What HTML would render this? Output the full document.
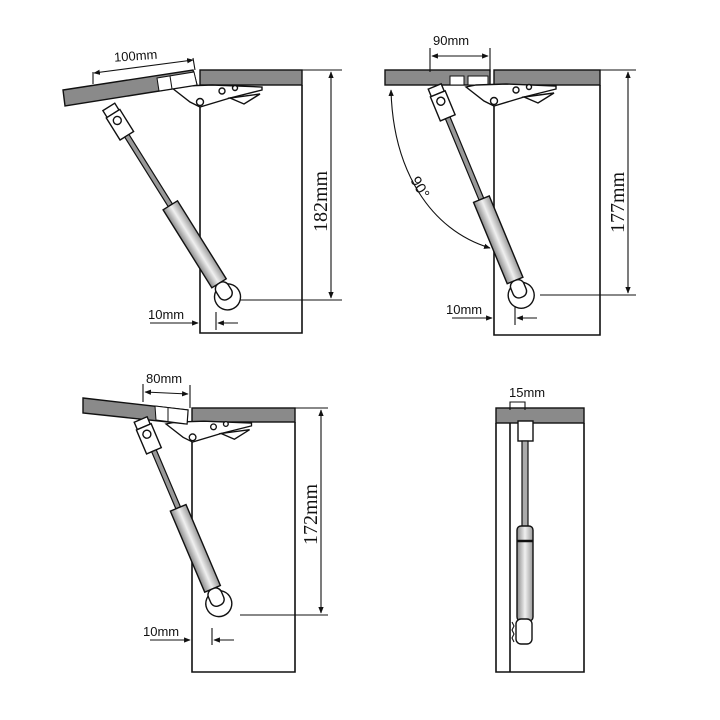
<!DOCTYPE html>
<html><head><meta charset="utf-8"><style>
html,body{margin:0;padding:0;background:#fff;}
svg{display:block;}
text{font-family:"Liberation Sans",sans-serif;fill:#111;}
.s{fill:none;stroke:#111;stroke-width:1.6;}
.t{fill:none;stroke:#111;stroke-width:1.1;}
.g{fill:#8a8a8a;stroke:#111;stroke-width:1.4;}
.w{fill:#fff;stroke:#111;stroke-width:1.4;}
</style></head><body>
<svg width="720" height="720" viewBox="0 0 720 720" xmlns="http://www.w3.org/2000/svg">
<defs>
<linearGradient id="cyl" x1="0" y1="0" x2="1" y2="0">
<stop offset="0" stop-color="#8a8a8a"/><stop offset="0.5" stop-color="#f0f0f0"/><stop offset="1" stop-color="#999"/>
</linearGradient>
<marker id="a" viewBox="0 0 10 10" refX="9" refY="5" markerWidth="6" markerHeight="6" orient="auto-start-reverse"><path d="M0,1 L10,5 L0,9 z" fill="#111"/></marker>
<g id="hinge">
<path class="w" d="M0,0 L18,14 L28,19 L58,10 L90,2 L90,-1 L40,-3 L10,-2 Z"/>
<path class="w" d="M58,10 L72,16 L88,6 Z"/>
<circle class="w" cx="28" cy="14" r="3.5"/>
<circle class="w" cx="50" cy="3" r="3"/>
<circle class="w" cx="63" cy="0" r="2.5"/>
</g>
</defs>

<!-- ========== Panel 1 ========== -->
<rect class="g" x="200" y="70" width="102" height="15"/>
<path class="s" d="M200,98 V333 H302 V85"/>
<use href="#hinge" transform="translate(172,88)"/>
<path class="g" d="M63,90 L193,70 L197,85 L65,106 Z"/>
<path d="M157,78 L194,72 L197,85 L159,91 Z" fill="#fff" stroke="#111" stroke-width="1"/>
<line x1="170" y1="76" x2="172" y2="89" stroke="#111" stroke-width="1"/>
<path class="t" d="M93,84 L93,72 M193,58 L195,70"/>
<line class="t" x1="94" y1="73" x2="193" y2="60" marker-start="url(#a)" marker-end="url(#a)"/>
<text x="114" y="60" font-size="13" transform="rotate(-4 140 56)">100mm</text>
<g transform="translate(112,112) rotate(-32)">
<rect class="w" x="-7" y="-6" width="14" height="8"/>
<rect class="w" x="-8" y="2" width="16" height="26"/>
<circle class="w" cx="0" cy="10" r="4"/>
<rect x="-2.5" y="28" width="5" height="82" fill="#999" stroke="#111" stroke-width="1.2"/>
<rect x="-8.5" y="110" width="17" height="92" fill="url(#cyl)" stroke="#111" stroke-width="1.4"/>
<circle class="w" cx="0" cy="218" r="13"/>
<rect class="w" x="-7" y="202" width="14" height="18" rx="6"/>
</g>
<path class="t" d="M302,70 H342 M240,300 H342"/>
<line class="t" x1="331" y1="72" x2="331" y2="298" marker-start="url(#a)" marker-end="url(#a)"/>
<text font-size="20" transform="translate(327,232) rotate(-90)" style="font-family:'Liberation Serif',serif">182mm</text>
<text x="148" y="319" font-size="13">10mm</text>
<line class="t" x1="150" y1="323" x2="198" y2="323" marker-end="url(#a)"/>
<line class="t" x1="216" y1="312" x2="216" y2="330"/>
<line class="t" x1="238" y1="323" x2="218" y2="323" marker-end="url(#a)"/>

<!-- ========== Panel 2 ========== -->
<rect class="g" x="385" y="70" width="105" height="15"/>
<rect class="g" x="494" y="70" width="106" height="15"/>
<rect x="450" y="76" width="14" height="9" fill="#fff" stroke="#111" stroke-width="1"/>
<rect x="468" y="76" width="20" height="9" fill="#fff" stroke="#111" stroke-width="1"/>
<path class="s" d="M494,100 V335 H600 V85"/>
<use href="#hinge" transform="translate(466,87)"/>
<path class="t" d="M430,48 V72 M490,48 V72"/>
<line class="t" x1="432" y1="56" x2="488" y2="56" marker-start="url(#a)" marker-end="url(#a)"/>
<text x="433" y="45" font-size="13">90mm</text>
<path class="t" d="M391,90 C393,170 430,230 490,248" marker-start="url(#a)" marker-end="url(#a)"/>
<text font-size="15" transform="translate(410,180) rotate(60)">90°</text>
<g transform="translate(437,92) rotate(-22.5)">
<rect class="w" x="-7" y="-6" width="14" height="8"/>
<rect class="w" x="-8" y="2" width="16" height="26"/>
<circle class="w" cx="0" cy="10" r="4"/>
<rect x="-2.5" y="28" width="5" height="88" fill="#999" stroke="#111" stroke-width="1.2"/>
<rect x="-8.5" y="116" width="17" height="88" fill="url(#cyl)" stroke="#111" stroke-width="1.4"/>
<circle class="w" cx="0" cy="220" r="13"/>
<rect class="w" x="-7" y="204" width="14" height="18" rx="6"/>
</g>
<path class="t" d="M600,70 H636 M540,295 H636"/>
<line class="t" x1="628" y1="72" x2="628" y2="293" marker-start="url(#a)" marker-end="url(#a)"/>
<text font-size="20" transform="translate(624,233) rotate(-90)" style="font-family:'Liberation Serif',serif">177mm</text>
<text x="446" y="314" font-size="13">10mm</text>
<line class="t" x1="452" y1="318" x2="492" y2="318" marker-end="url(#a)"/>
<line class="t" x1="515" y1="306" x2="515" y2="325"/>
<line class="t" x1="537" y1="318" x2="517" y2="318" marker-end="url(#a)"/>

<!-- ========== Panel 3 ========== -->
<rect class="g" x="192" y="408" width="103" height="14"/>
<path class="s" d="M192,440 V672 H295 V422"/>
<use href="#hinge" transform="translate(166,424) scale(0.95)"/>
<path class="g" d="M83,398 L188,410 L187,424 L83,413 Z"/>
<path d="M155,406 L188,410 L187,424 L156,420 Z" fill="#fff" stroke="#111" stroke-width="1"/>
<line x1="168" y1="408" x2="168" y2="421" stroke="#111" stroke-width="1"/>
<path class="t" d="M143,384 V402 M190,385 V408"/>
<line class="t" x1="145" y1="392" x2="188" y2="394" marker-start="url(#a)" marker-end="url(#a)"/>
<text x="146" y="383" font-size="13">80mm</text>
<g transform="translate(143,425) rotate(-23)">
<rect class="w" x="-7" y="-6" width="14" height="8"/>
<rect class="w" x="-8" y="2" width="16" height="26"/>
<circle class="w" cx="0" cy="10" r="4"/>
<rect x="-2.5" y="28" width="5" height="62" fill="#999" stroke="#111" stroke-width="1.2"/>
<rect x="-8.5" y="90" width="17" height="88" fill="url(#cyl)" stroke="#111" stroke-width="1.4"/>
<circle class="w" cx="0" cy="194" r="13"/>
<rect class="w" x="-7" y="178" width="14" height="18" rx="6"/>
</g>
<path class="t" d="M295,408 H328 M240,615 H328"/>
<line class="t" x1="321" y1="410" x2="321" y2="613" marker-start="url(#a)" marker-end="url(#a)"/>
<text font-size="20" transform="translate(317,545) rotate(-90)" style="font-family:'Liberation Serif',serif">172mm</text>
<text x="143" y="636" font-size="13">10mm</text>
<line class="t" x1="150" y1="640" x2="190" y2="640" marker-end="url(#a)"/>
<line class="t" x1="212" y1="628" x2="212" y2="645"/>
<line class="t" x1="234" y1="640" x2="214" y2="640" marker-end="url(#a)"/>

<!-- ========== Panel 4 ========== -->
<rect class="g" x="496" y="408" width="88" height="15"/>
<path class="s" d="M496,423 V672 H584 V423 M510,423 V672"/>
<path class="t" d="M510,410 V402 H525 V410"/>
<text x="509" y="397" font-size="13">15mm</text>
<rect class="w" x="518" y="421" width="15" height="20"/>
<rect x="522" y="441" width="6" height="86" fill="#aaa" stroke="#111" stroke-width="1.2"/>
<rect x="517" y="526" width="16" height="95" rx="4" fill="url(#cyl)" stroke="#111" stroke-width="1.4"/>
<line x1="517" y1="541" x2="533" y2="541" stroke="#111" stroke-width="2.5"/>
<rect class="w" x="516" y="619" width="16" height="25" rx="5"/>
<path class="t" d="M512,622 L514,626 L512,630 L514,634 L512,638 L514,642"/>
</svg>
</body></html>
